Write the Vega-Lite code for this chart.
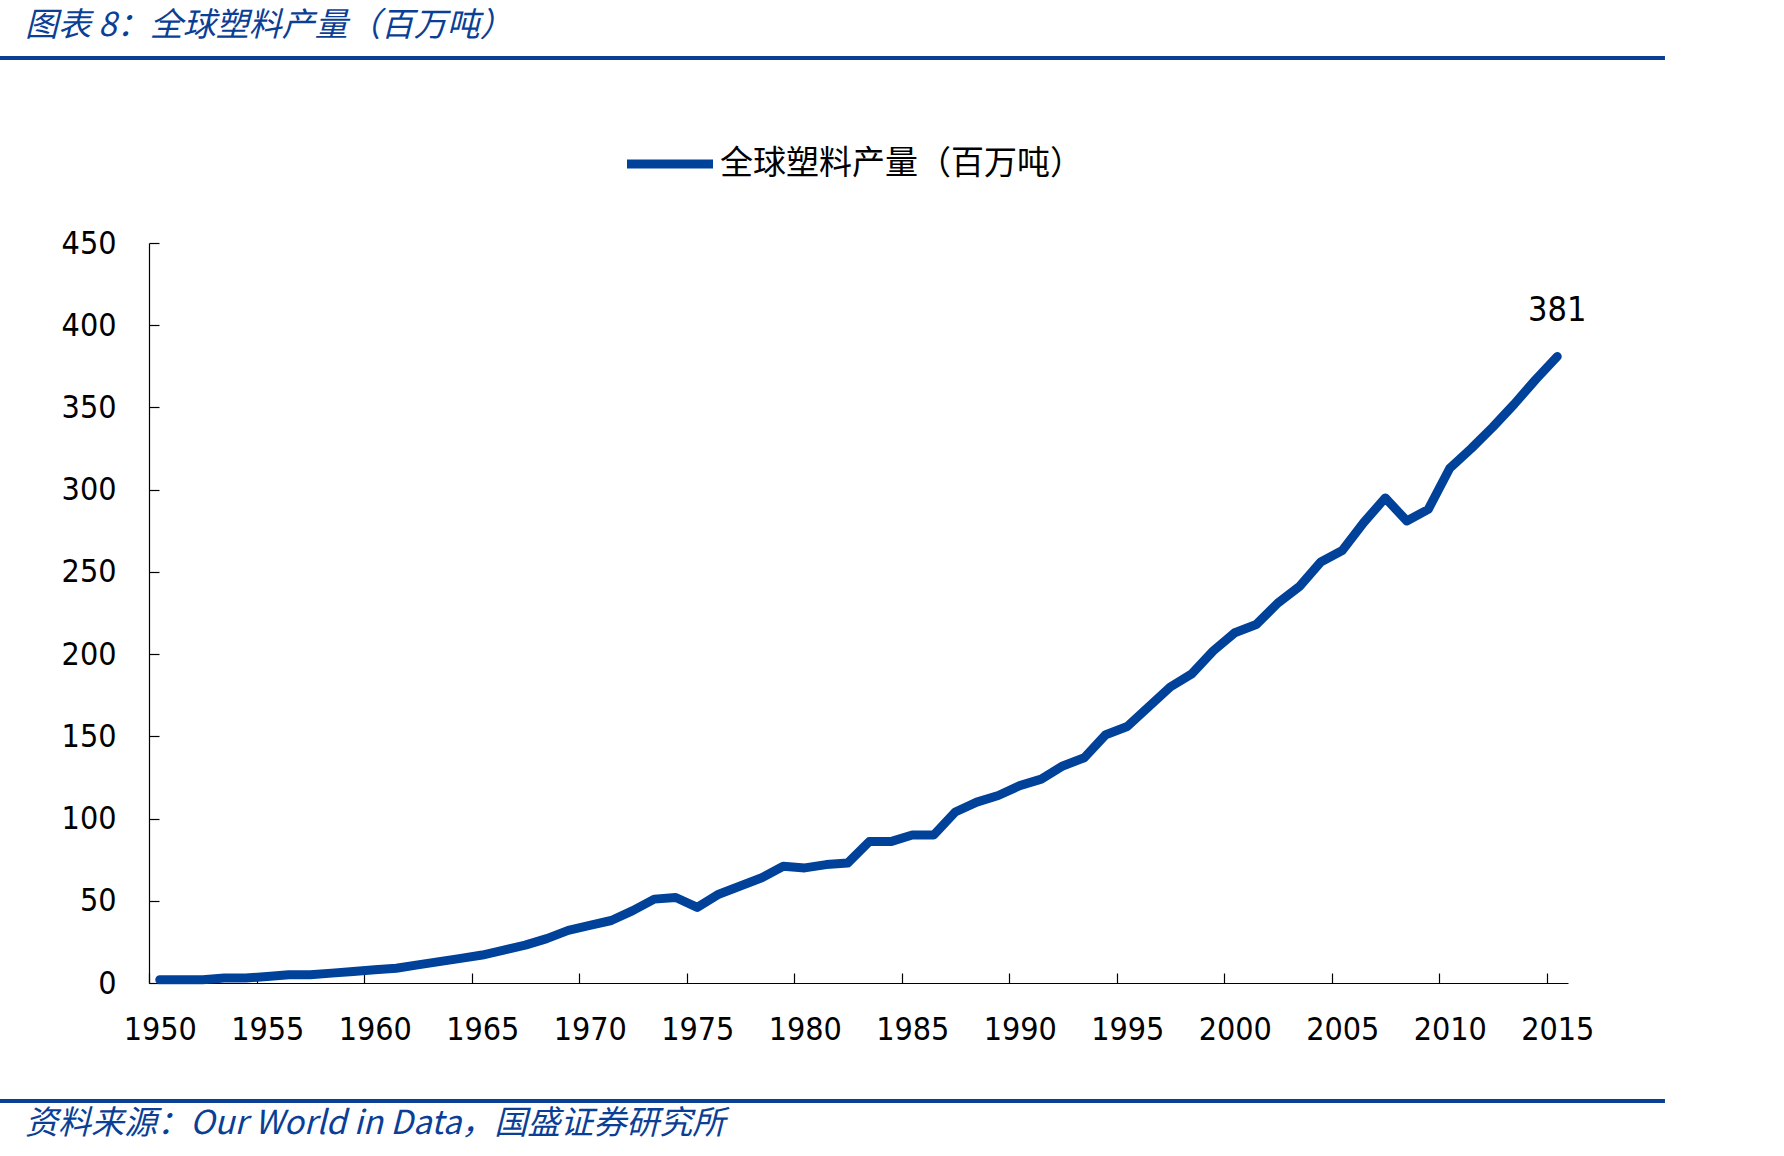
{
  "$schema": "https://vega.github.io/schema/vega-lite/v6.json",
  "width": 1419,
  "height": 740,
  "autosize": "none",
  "padding": {"left": 149, "top": 243, "right": 216, "bottom": 173},
  "background": "white",
  "config": {
    "view": {"stroke": null},
    "axis": {
      "domainColor": "black",
      "domainWidth": 1.2,
      "tickColor": "black",
      "tickWidth": 1.2,
      "labelColor": "black",
      "labelFont": "DejaVu Sans Condensed, Liberation Sans",
      "labelFontSize": 32,
      "grid": false
    }
  },
  "datasets": {
    "plastic": [
      {"year": 1950, "value": 2}, {"year": 1951, "value": 2}, {"year": 1952, "value": 2},
      {"year": 1953, "value": 3}, {"year": 1954, "value": 3}, {"year": 1955, "value": 4},
      {"year": 1956, "value": 5}, {"year": 1957, "value": 5}, {"year": 1958, "value": 6},
      {"year": 1959, "value": 7}, {"year": 1960, "value": 8}, {"year": 1961, "value": 9},
      {"year": 1962, "value": 11}, {"year": 1963, "value": 13}, {"year": 1964, "value": 15},
      {"year": 1965, "value": 17}, {"year": 1966, "value": 20}, {"year": 1967, "value": 23},
      {"year": 1968, "value": 27}, {"year": 1969, "value": 32}, {"year": 1970, "value": 35},
      {"year": 1971, "value": 38}, {"year": 1972, "value": 44}, {"year": 1973, "value": 51},
      {"year": 1974, "value": 52}, {"year": 1975, "value": 46}, {"year": 1976, "value": 54},
      {"year": 1977, "value": 59}, {"year": 1978, "value": 64}, {"year": 1979, "value": 71},
      {"year": 1980, "value": 70}, {"year": 1981, "value": 72}, {"year": 1982, "value": 73},
      {"year": 1983, "value": 86}, {"year": 1984, "value": 86}, {"year": 1985, "value": 90},
      {"year": 1986, "value": 90}, {"year": 1987, "value": 104}, {"year": 1988, "value": 110},
      {"year": 1989, "value": 114}, {"year": 1990, "value": 120}, {"year": 1991, "value": 124},
      {"year": 1992, "value": 132}, {"year": 1993, "value": 137}, {"year": 1994, "value": 151},
      {"year": 1995, "value": 156}, {"year": 1996, "value": 168}, {"year": 1997, "value": 180},
      {"year": 1998, "value": 188}, {"year": 1999, "value": 202}, {"year": 2000, "value": 213},
      {"year": 2001, "value": 218}, {"year": 2002, "value": 231}, {"year": 2003, "value": 241},
      {"year": 2004, "value": 256}, {"year": 2005, "value": 263}, {"year": 2006, "value": 280},
      {"year": 2007, "value": 295}, {"year": 2008, "value": 281}, {"year": 2009, "value": 288},
      {"year": 2010, "value": 313}, {"year": 2011, "value": 325}, {"year": 2012, "value": 338},
      {"year": 2013, "value": 352}, {"year": 2014, "value": 367}, {"year": 2015, "value": 381}
    ],
    "single": [{"id": 1}]
  },
  "layer": [
    {
      "data": {"name": "plastic"},
      "mark": {"type": "line", "strokeWidth": 9, "strokeJoin": "round", "strokeCap": "round"},
      "encoding": {
        "x": {
          "field": "year",
          "type": "quantitative",
          "scale": {"domain": [1949.5, 2015.5], "nice": false, "zero": false},
          "axis": {
            "title": null,
            "values": [1950, 1955, 1960, 1965, 1970, 1975, 1980, 1985, 1990, 1995, 2000, 2005, 2010, 2015],
            "format": "d",
            "tickSize": -10,
            "tickOffset": -10.75,
            "labelOffset": 10.75,
            "labelPadding": 41,
            "labelFlush": false,
            "labelOverlap": false
          }
        },
        "y": {
          "field": "value",
          "type": "quantitative",
          "scale": {"domain": [0, 450], "nice": false},
          "axis": {
            "title": null,
            "values": [0, 50, 100, 150, 200, 250, 300, 350, 400, 450],
            "tickSize": -10,
            "labelPadding": 43,
            "labelFlush": false,
            "labelOverlap": false
          }
        },
        "color": {
          "datum": "全球塑料产量（百万吨）",
          "type": "nominal",
          "scale": {"range": ["#00419A"]},
          "legend": {
            "title": null,
            "orient": "none",
            "legendX": 473,
            "legendY": -127,
            "padding": 0,
            "symbolType": "stroke",
            "symbolSize": 7400,
            "symbolStrokeWidth": 9,
            "labelFont": "Noto Sans CJK SC",
            "labelFontSize": 33,
            "labelColor": "black",
            "labelOffset": 2,
            "labelLimit": 1000
          }
        }
      }
    },
    {
      "data": {"name": "plastic"},
      "transform": [{"filter": "datum.year == 2015"}],
      "mark": {"type": "text", "font": "DejaVu Sans Condensed, Liberation Sans", "fontSize": 34, "color": "black", "baseline": "middle", "align": "center", "dy": -45},
      "encoding": {
        "x": {"field": "year", "type": "quantitative"},
        "y": {"field": "value", "type": "quantitative"},
        "text": {"field": "value", "type": "quantitative"}
      }
    },
    {
      "data": {"name": "single"},
      "mark": {"type": "rule", "color": "#0B3F96", "strokeWidth": 4, "clip": false},
      "encoding": {
        "x": {"datum": 1942.57, "type": "quantitative"},
        "x2": {"datum": 2020.01},
        "y": {"datum": 562.5, "type": "quantitative"}
      }
    },
    {
      "data": {"name": "single"},
      "mark": {"type": "rule", "color": "#0B3F96", "strokeWidth": 4, "clip": false},
      "encoding": {
        "x": {"datum": 1942.57, "type": "quantitative"},
        "x2": {"datum": 2020.01},
        "y": {"datum": -71.76, "type": "quantitative"}
      }
    },
    {
      "data": {"name": "single"},
      "mark": {"type": "text", "font": "Noto Sans CJK SC", "fontStyle": "italic", "fontSize": 33, "color": "#0B3F96", "align": "left", "baseline": "middle", "clip": false},
      "encoding": {
        "x": {"datum": 1943.73, "type": "quantitative"},
        "y": {"datum": 582.0, "type": "quantitative"},
        "text": {"value": "图表 8：全球塑料产量（百万吨）"}
      }
    },
    {
      "data": {"name": "single"},
      "mark": {"type": "text", "font": "Noto Sans CJK SC", "fontStyle": "italic", "fontSize": 33, "color": "#0B3F96", "align": "left", "baseline": "middle", "clip": false},
      "encoding": {
        "x": {"datum": 1943.73, "type": "quantitative"},
        "y": {"datum": -85.74, "type": "quantitative"},
        "text": {"value": "资料来源：Our World in Data，国盛证券研究所"}
      }
    }
  ]
}
